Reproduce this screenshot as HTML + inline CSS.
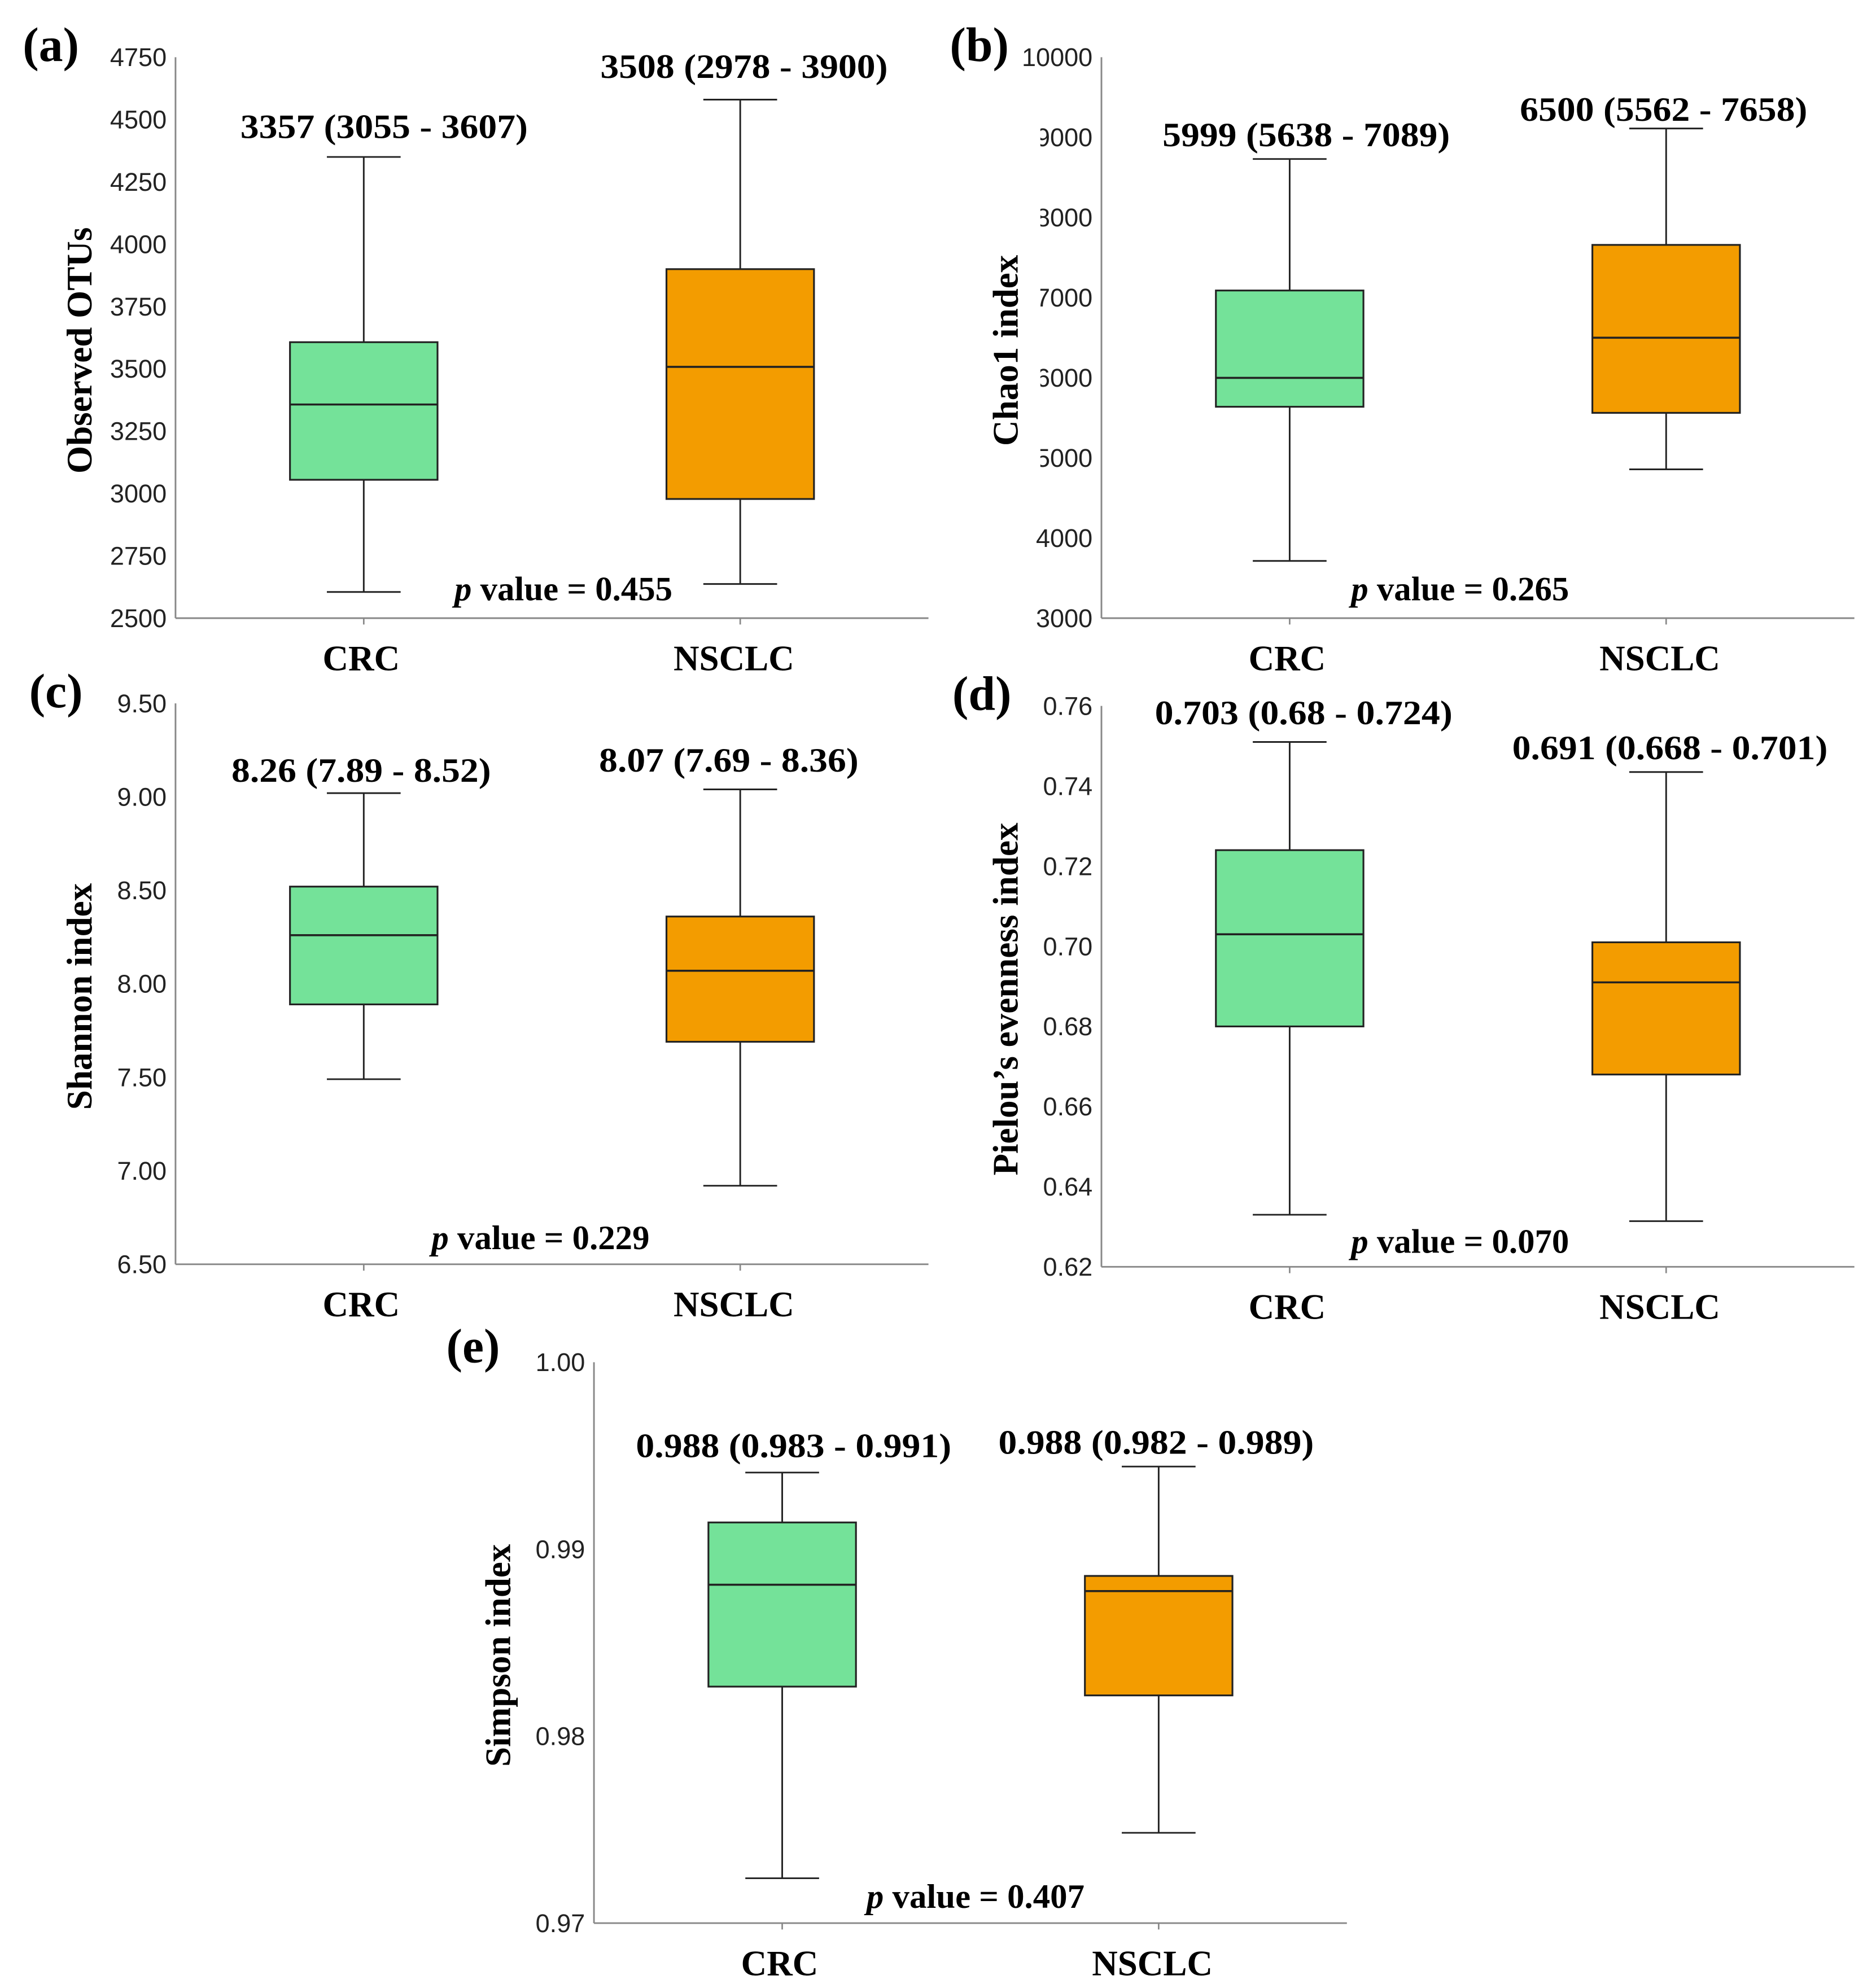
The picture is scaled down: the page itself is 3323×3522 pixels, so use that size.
<!DOCTYPE html>
<html><head><meta charset="utf-8"><style>
html,body{margin:0;padding:0;background:#fff;}
svg{display:block;}
.tick{font-family:"Liberation Sans",sans-serif;font-size:20px;fill:#222;}
.ann{font-family:"Liberation Serif",serif;font-weight:bold;font-size:27px;fill:#000;}
.cat{font-family:"Liberation Serif",serif;font-weight:bold;font-size:28px;fill:#000;}
.ylab{font-family:"Liberation Serif",serif;font-weight:bold;font-size:28px;fill:#000;}
.plab{font-family:"Liberation Serif",serif;font-weight:bold;font-size:38px;fill:#000;}
</style></head><body>
<svg id="fig" width="3323" height="3522" viewBox="0 0 1475 1563" preserveAspectRatio="none" xmlns="http://www.w3.org/2000/svg"></svg>
<script>
const categories = ["CRC","NSCLC"];
// [min, q1, median, q3, max] per panel per category
const obsOtus = [[2605,3055,3357,3607,4350],[2637,2978,3508,3900,4580]];
const chao1 = [[3714,5638,5999,7089,8730],[4857,5562,6500,7658,9111]];
const shannon = [[7.49,7.89,8.26,8.52,9.02],[6.92,7.69,8.07,8.36,9.04]];
const pielou = [[0.633,0.680,0.703,0.724,0.751],[0.6314,0.668,0.691,0.701,0.7435]];
const simpson = [[0.9724,0.98265,0.9881,0.99143,0.9941],[0.97483,0.98218,0.98776,0.98857,0.99442]];
const ticksA = [2500,2750,3000,3250,3500,3750,4000,4250,4500,4750];
const ticksB = [3000,4000,5000,6000,7000,8000,9000,10000];
const ticksC = ["6.50","7.00","7.50","8.00","8.50","9.00","9.50"];
const ticksD = ["0.62","0.64","0.66","0.68","0.70","0.72","0.74","0.76"];
const ticksE = ["0.97","0.98","0.99","1.00"];
const annA = ["3357 (3055 - 3607)","3508 (2978 - 3900)"];
const annB = ["5999 (5638 - 7089)","6500 (5562 - 7658)"];
const annC = ["8.26 (7.89 - 8.52)","8.07 (7.69 - 8.36)"];
const annD = ["0.703 (0.68 - 0.724)","0.691 (0.668 - 0.701)"];
const annE = ["0.988 (0.983 - 0.991)","0.988 (0.982 - 0.989)"];
const pvals = ["0.455","0.265","0.229","0.070","0.407"];

const NS="http://www.w3.org/2000/svg";
const fig=document.getElementById('fig');
function mk(tag,attrs,parent,text){const e=document.createElementNS(NS,tag);for(const k in attrs)e.setAttribute(k,attrs[k]);if(text!==undefined)e.textContent=text;(parent||fig).appendChild(e);return e;}
const colors=["#74e299","#f39c00"];

function panel(cfg){
  const g=mk('g',{});
  
  
  const y=v=>cfg.y1-(v-cfg.min)/(cfg.max-cfg.min)*(cfg.y1-cfg.y0);
  const x=[cfg.x0+148,cfg.x0+444];
  cfg.ticks.forEach(t=>{
    const tl=mk('text',{x:cfg.x0-7,y:y(parseFloat(t))+7,'text-anchor':'end',class:'tick'},g,String(t));
    
    
  });
  if(cfg.cover){mk('rect',{x:cfg.x0-86,y:85,width:38,height:310,fill:'#fff'},g);}
  mk('line',{x1:cfg.x0,y1:cfg.y0,x2:cfg.x0,y2:cfg.y1,stroke:'#888','stroke-width':1.3},g);
  mk('line',{x1:cfg.x0,y1:cfg.y1,x2:cfg.x0+592,y2:cfg.y1,stroke:'#888','stroke-width':1.3},g);
  cfg.data.forEach((d,i)=>{
    const cx=x[i],hw=58,cw=29;
    const b=mk('g',{},g);
    
    
    mk('line',{x1:cx,y1:y(d[0]),x2:cx,y2:y(d[1]),stroke:'#222','stroke-width':1.3},b);
    mk('line',{x1:cx,y1:y(d[3]),x2:cx,y2:y(d[4]),stroke:'#222','stroke-width':1.3},b);
    mk('line',{x1:cx-cw,y1:y(d[0]),x2:cx+cw,y2:y(d[0]),stroke:'#222','stroke-width':1.3},b);
    mk('line',{x1:cx-cw,y1:y(d[4]),x2:cx+cw,y2:y(d[4]),stroke:'#222','stroke-width':1.3},b);
    mk('rect',{x:cx-hw,y:y(d[3]),width:2*hw,height:y(d[1])-y(d[3]),fill:colors[i],stroke:'#222','stroke-width':1.4},b);
    mk('line',{x1:cx-hw,y1:y(d[2]),x2:cx+hw,y2:y(d[2]),stroke:'#222','stroke-width':1.6},b);
    mk('line',{x1:cx,y1:cfg.y1,x2:cx,y2:cfg.y1+5,stroke:'#888','stroke-width':1.2},g);
    const a=mk('text',{x:cx+cfg.annDx[i],y:y(d[4])-cfg.annGap[i],'text-anchor':'middle',class:'ann',textLength:cfg.annW[i],lengthAdjust:'spacingAndGlyphs'},g,cfg.ann[i]);
    
    
    const c=mk('text',{x:cx-2+i*(-3),y:cfg.y1+41,'text-anchor':'middle',class:'cat'},g,categories[i]);
    
    
  });
  const p=mk('text',{x:cfg.x0+cfg.pDx,y:cfg.y1+cfg.pDy,'text-anchor':'middle',class:'ann'},g);
  
  
  mk('tspan',{'font-style':'italic'},p,'p');
  mk('tspan',{},p,' value = '+cfg.p);
  const yl=mk('text',{x:0,y:0,'text-anchor':'middle',class:'ylab',transform:`translate(${cfg.x0-66},${(cfg.y0+cfg.y1)/2+10}) rotate(-90)`},g,cfg.ylabel);
  
  
  const pl=mk('text',{x:cfg.lx,y:cfg.ly,'text-anchor':'middle',class:'plab'},g,'('+cfg.id+')');
  
  
}

panel({id:'a',x0:138,y0:45,y1:486,min:2500,max:4750,ticks:ticksA,data:obsOtus,ann:annA,annW:[226,226],annDx:[16,3],annGap:[15,17],p:pvals[0],pDx:305,pDy:-14,ylabel:'Observed OTUs',lx:40,ly:48});
panel({id:'b',x0:866,y0:45,y1:486,min:3000,max:10000,ticks:ticksB,data:chao1,ann:annB,annW:[226,226],annDx:[13,-2],annGap:[10,6],p:pvals[1],pDx:282,pDy:-14,ylabel:'Chao1 index',lx:770,ly:48,cover:true});
panel({id:'c',x0:138,y0:553,y1:994,min:6.5,max:9.5,ticks:ticksC,data:shannon,ann:annC,annW:[204,204],annDx:[-2,-9],annGap:[9,14],p:pvals[2],pDx:287,pDy:-12,ylabel:'Shannon index',lx:44,ly:556});
panel({id:'d',x0:866,y0:555,y1:996,min:0.62,max:0.76,ticks:ticksD,data:pielou,ann:annD,annW:[234,248],annDx:[11,3],annGap:[14,10],p:pvals[3],pDx:282,pDy:-11,ylabel:'Pielou\u2019s evenness index',lx:772,ly:558});
panel({id:'e',x0:467,y0:1071,y1:1512,min:0.97,max:1.00,ticks:ticksE,data:simpson,ann:annE,annW:[248,248],annDx:[9,-2],annGap:[12,10],p:pvals[4],pDx:300,pDy:-12,ylabel:'Simpson index',lx:372,ly:1071});
</script>
</body></html>
